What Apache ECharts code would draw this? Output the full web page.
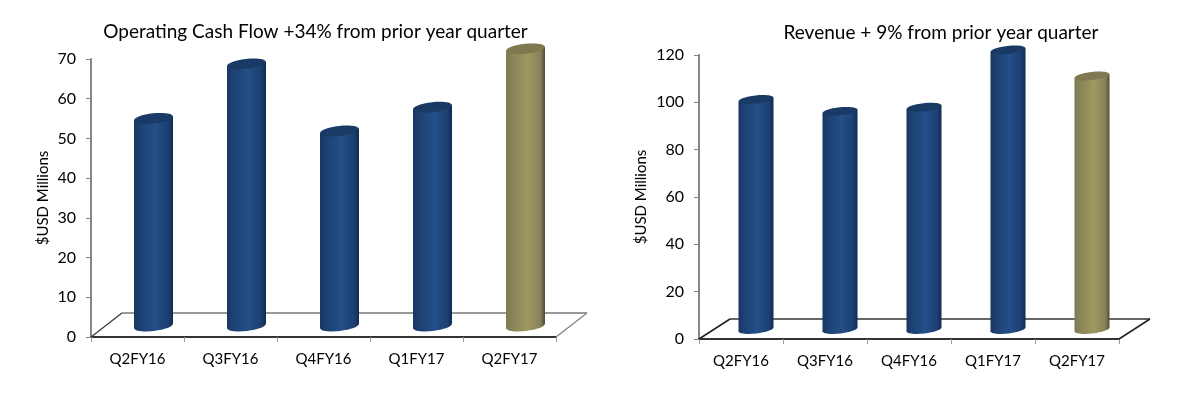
<!DOCTYPE html>
<html><head><meta charset="utf-8">
<script src="https://cdn.jsdelivr.net/npm/echarts@6/dist/echarts.min.js"></script>
<style>html,body{margin:0;padding:0;background:#fff}#c{width:1181px;height:395px}</style>
</head><body><div id="c"></div>
<script>
const categories = ['Q2FY16','Q3FY16','Q4FY16','Q1FY17','Q2FY17'];
const cashFlow = [52.3, 66.0, 49.1, 55.1, 69.8];
const revenue = [97.2, 92.2, 93.9, 118.1, 107.1];
const cashTicks = {max:70, interval:10};
const revenueTicks = {max:120, interval:20};
const highlightCategory = 'Q2FY17';
const titles = ['Operating Cash Flow +34% from prior year quarter','Revenue + 9% from prior year quarter'];
const yName = '$USD Millions';

const grad = (a,b,c,d)=>({type:'linear',x:0,y:0,x2:1,y2:0,colorStops:[
  {offset:0,color:a},{offset:.12,color:b},{offset:.55,color:c},{offset:.88,color:b},{offset:1,color:d}]});
const BLUE = {body:grad('#18355f','#1c3f70','#244f88','#0f2a50'), top:'#1a3a66'};
const GOLD = {body:grad('#7e7a50','#87815a','#a0985f','#4f4c36'), top:'#7f7850'};

function barRenderer(dx, dy, w, ry){
  return function(params, api){
    const c = api.coord([api.value(0), api.value(1)]);
    const b = api.coord([api.value(0), 0]);
    const x = c[0]+dx, yt = c[1]-dy, yb = b[1]-dy;
    const tilt = 0.11, t = w*tilt/2;
    const col = categories[api.value(0)]===highlightCategory ? GOLD : BLUE;
    return {type:'group', children:[
      {type:'ellipse', x:x, y:yb, rotation:tilt, shape:{cx:0,cy:0,rx:w/2,ry:ry}, style:{fill:col.body}},
      {type:'polygon', shape:{points:[[x-w/2,yt+t],[x+w/2,yt-t],[x+w/2,yb-t],[x-w/2,yb+t]]}, style:{fill:col.body}},
      {type:'ellipse', x:x, y:yt, rotation:tilt, shape:{cx:0,cy:0,rx:w/2,ry:ry}, style:{fill:col.top}}
    ]};
  };
}
function floorRenderer(ddx, ddy, backColor, sideLeft, sideRight){
  return function(params, api){
    const band = api.size([1,0])[0];
    const p0 = api.coord([0,0]), p4 = api.coord([categories.length-1,0]);
    const l = p0[0]-band/2, r = p4[0]+band/2, y = p0[1];
    const ls = (c,pts)=>({type:'polyline', shape:{points:pts}, style:{fill:null,stroke:c,lineWidth:1.5}});
    return {type:'group', children:[
      ls(backColor,[[l+ddx,y-ddy],[r+ddx,y-ddy]]),
      ls(sideLeft,[[l,y],[l+ddx,y-ddy]]),
      ls(sideRight,[[r,y],[r+ddx,y-ddy]])
    ]};
  };
}
const labelStyle = {fontFamily:'Lato',color:'#000'};
function xAxis(i){return {gridIndex:i,type:'category',data:categories,
  axisLine:{lineStyle:{color:'#333',width:2}},
  axisTick:{show:true,length:5,lineStyle:{color:'#999',width:1}},
  axisLabel:Object.assign({fontSize:15,margin:15,interval:0},labelStyle)};}
function yAxis(i,t,gap){return {gridIndex:i,type:'value',min:0,max:t.max,interval:t.interval,
  name:yName,nameLocation:'middle',nameGap:gap,nameTextStyle:Object.assign({fontSize:15},labelStyle),
  axisLine:{show:true,lineStyle:{color:'#868686',width:2}},
  axisTick:{show:true,length:5,lineStyle:{color:'#868686',width:1}},
  splitLine:{show:false},
  axisLabel:Object.assign({fontSize:16,margin:15},labelStyle)};}
function floorSeries(i,render){return {type:'custom',xAxisIndex:i,yAxisIndex:i,z:1,silent:true,clip:false,
  renderItem:render,data:[[0,0]],encode:{x:0,y:1}};}
function barSeries(i,values,render){return {type:'custom',xAxisIndex:i,yAxisIndex:i,z:3,silent:true,clip:false,
  renderItem:render,data:values.map((v,k)=>[k,v]),encode:{x:0,y:1}};}

const chart = echarts.init(document.getElementById('c'),null,{renderer:'canvas'});
chart.setOption({
  animation:false, backgroundColor:'#fff',
  title:[
    {text:titles[0],left:310.5,top:17,textAlign:'center',textStyle:{fontFamily:'Lato',fontSize:19,fontWeight:'normal',color:'#000'}},
    {text:titles[1],left:936,top:18,textAlign:'center',textStyle:{fontFamily:'Lato',fontSize:19,fontWeight:'normal',color:'#000'}}
  ],
  grid:[{left:91,top:59,width:465,height:278},{left:699,top:55,width:420,height:284}],
  xAxis:[xAxis(0),xAxis(1)],
  yAxis:[yAxis(0,cashTicks,40),yAxis(1,revenueTicks,50)],
  series:[
    floorSeries(0,floorRenderer(31,24,'#777','#444','#888')),
    floorSeries(1,floorRenderer(31,20,'#333','#222','#222')),
    barSeries(0,cashFlow,barRenderer(16,11,39,5)),
    barSeries(1,revenue,barRenderer(15,9.5,35,4))
  ]
});
</script></body></html>
